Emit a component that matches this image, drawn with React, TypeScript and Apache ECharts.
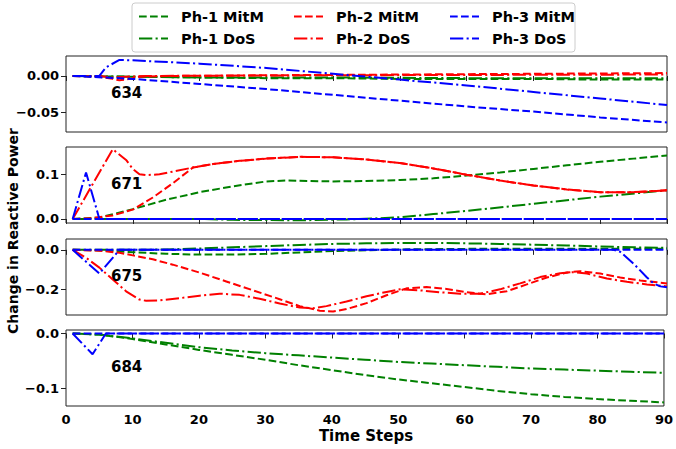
import React, { useEffect, useRef } from "react";
import * as echarts from "echarts";

// ---------- data ([time step, change in reactive power]) ----------
const panelNames = ["634", "671", "675", "684"];
const seriesNames = ["Ph-1 MitM", "Ph-1 DoS", "Ph-2 MitM", "Ph-2 DoS", "Ph-3 MitM", "Ph-3 DoS"];

// Bus 634
const b634_ph1_mitm = [[1, 0], [10, -0.001], [20, -0.002], [30, -0.003], [40, -0.003], [50, -0.004], [60, -0.004], [70, -0.004], [80, -0.005], [90, -0.005]];
const b634_ph1_dos = [[1, 0], [10, -0.001], [20, -0.002], [40, -0.002], [60, -0.003], [90, -0.003]];
const b634_ph2_mitm = [[1, 0], [5, -0.001], [7, -0.004], [8, -0.006], [9, -0.005], [11, -0.001], [15, 0], [30, 0.001], [50, 0.002], [70, 0.003], [90, 0.004]];
const b634_ph2_dos = [[1, 0], [5, 0], [7, -0.002], [9, -0.001], [12, 0], [40, 0.001], [90, 0.002]];
const b634_ph3_mitm = [[1, 0], [10, -0.004], [20, -0.011], [30, -0.018], [40, -0.026], [50, -0.034], [60, -0.042], [70, -0.049], [80, -0.057], [90, -0.064]];
const b634_ph3_dos = [[1, 0], [5, 0], [6, 0.012], [8, 0.022], [10, 0.0215], [20, 0.017], [30, 0.011], [40, 0.003], [45, -0.001], [50, -0.005], [60, -0.013], [70, -0.022], [80, -0.031], [90, -0.04]];

// Bus 671
const b671_ph1_mitm = [[1, 0], [5, 0.003], [10, 0.022], [15, 0.043], [20, 0.06], [25, 0.073], [30, 0.084], [33, 0.086], [40, 0.084], [45, 0.085], [50, 0.087], [55, 0.091], [60, 0.097], [65, 0.104], [70, 0.112], [75, 0.12], [80, 0.128], [85, 0.135], [90, 0.142]];
const b671_ph1_dos = [[1, 0], [20, 0], [25, -0.002], [35, -0.003], [42, -0.001], [46, 0.001], [50, 0.004], [55, 0.011], [60, 0.018], [70, 0.034], [80, 0.05], [90, 0.064]];
const b671_ph2_mitm = [[1, 0], [4, 0.002], [7, 0.008], [10, 0.021], [13, 0.048], [16, 0.08], [19, 0.115], [22, 0.123], [26, 0.13], [30, 0.135], [35, 0.139], [40, 0.138], [45, 0.133], [50, 0.125], [55, 0.113], [60, 0.099], [65, 0.086], [70, 0.075], [75, 0.066], [80, 0.06], [85, 0.06], [90, 0.064]];
const b671_ph2_dos = [[1, 0], [7, 0.156], [9, 0.132], [10, 0.112], [11, 0.1], [12, 0.098], [14, 0.1], [16, 0.106], [19, 0.115], [22, 0.123], [26, 0.13], [30, 0.135], [35, 0.139], [40, 0.138], [45, 0.133], [50, 0.125], [55, 0.113], [60, 0.099], [65, 0.086], [70, 0.075], [75, 0.066], [80, 0.06], [85, 0.06], [90, 0.064]];
const b671_ph3_mitm = [[1, 0], [90, 0]];
const b671_ph3_dos = [[1, 0], [3, 0.104], [5, 0], [90, 0]];

// Bus 675
const b675_ph1_mitm = [[1, 0], [5, -0.003], [10, -0.012], [15, -0.02], [20, -0.024], [25, -0.024], [30, -0.02], [35, -0.013], [40, -0.006], [45, -0.002], [50, 0.002], [60, 0.005], [70, 0.006], [80, 0.006], [90, 0.005]];
const b675_ph1_dos = [[1, 0], [10, 0], [15, 0.002], [20, 0.007], [25, 0.013], [30, 0.019], [35, 0.025], [40, 0.03], [45, 0.033], [50, 0.035], [55, 0.035], [60, 0.033], [65, 0.03], [70, 0.026], [75, 0.022], [80, 0.017], [85, 0.013], [90, 0.01]];
const b675_ph2_mitm = [[1, 0], [5, -0.004], [8, -0.015], [10, -0.028], [13, -0.048], [16, -0.075], [20, -0.115], [24, -0.16], [28, -0.205], [32, -0.25], [35, -0.285], [38, -0.308], [40, -0.312], [42, -0.3], [45, -0.27], [48, -0.23], [51, -0.195], [54, -0.188], [57, -0.198], [60, -0.215], [63, -0.225], [66, -0.21], [69, -0.175], [72, -0.14], [75, -0.115], [77, -0.108], [80, -0.12], [83, -0.14], [86, -0.155], [90, -0.17]];
const b675_ph2_dos = [[1, 0], [3, -0.04], [5, -0.09], [7, -0.15], [9, -0.21], [11, -0.252], [12, -0.258], [14, -0.256], [17, -0.245], [20, -0.232], [23, -0.222], [26, -0.228], [29, -0.248], [32, -0.272], [35, -0.292], [37, -0.296], [39, -0.285], [42, -0.262], [45, -0.235], [48, -0.213], [50, -0.2], [53, -0.205], [56, -0.215], [59, -0.222], [62, -0.222], [65, -0.2], [68, -0.17], [71, -0.138], [74, -0.118], [76, -0.113], [78, -0.12], [81, -0.145], [84, -0.162], [87, -0.175], [90, -0.185]];
const b675_ph3_mitm = [[1, 0], [90, 0]];
const b675_ph3_dos = [[1, 0], [5, -0.12], [8, 0], [82, 0], [83, -0.01], [85, -0.07], [87, -0.14], [88, -0.17], [89, -0.185], [90, -0.19]];

// Bus 684 (no phase-2 trace visible)
const b684_ph1_mitm = [[1, 0], [5, -0.002], [10, -0.01], [15, -0.02], [20, -0.03], [25, -0.039], [30, -0.048], [35, -0.058], [40, -0.067], [45, -0.076], [50, -0.084], [55, -0.091], [60, -0.098], [65, -0.105], [70, -0.111], [75, -0.116], [80, -0.12], [85, -0.123], [90, -0.126]];
const b684_ph1_dos = [[1, 0], [5, -0.002], [10, -0.009], [15, -0.017], [20, -0.025], [25, -0.031], [30, -0.036], [35, -0.04], [40, -0.044], [45, -0.048], [50, -0.052], [55, -0.055], [60, -0.058], [65, -0.061], [70, -0.064], [75, -0.066], [80, -0.068], [85, -0.07], [90, -0.072]];
const b684_ph2_mitm: number[][] = [];
const b684_ph2_dos: number[][] = [];
const b684_ph3_mitm = [[1, 0], [90, 0]];
const b684_ph3_dos = [[1, 0], [4, -0.038], [6, 0], [90, 0]];

const panelData = [
  [b634_ph1_mitm, b634_ph1_dos, b634_ph2_mitm, b634_ph2_dos, b634_ph3_mitm, b634_ph3_dos],
  [b671_ph1_mitm, b671_ph1_dos, b671_ph2_mitm, b671_ph2_dos, b671_ph3_mitm, b671_ph3_dos],
  [b675_ph1_mitm, b675_ph1_dos, b675_ph2_mitm, b675_ph2_dos, b675_ph3_mitm, b675_ph3_dos],
  [b684_ph1_mitm, b684_ph1_dos, b684_ph2_mitm, b684_ph2_dos, b684_ph3_mitm, b684_ph3_dos],
];

// axis ranges and ticks
const yMins = [-0.0771, -0.009, -0.33, -0.1326];
const yMaxs = [0.0275, 0.161, 0.055, 0.0064];
const yTicks = [[-0.05, 0], [0, 0.1], [-0.2, 0], [-0.1, 0]];
const yDecimals = [2, 1, 1, 1];

// ---------- styles ----------
const colors = ["#008000", "#008000", "#ff0000", "#ff0000", "#0000ff", "#0000ff"];
const DASHED = [7.7, 3.3];
const DASHDOT = [13.3, 3.3, 2.1, 3.3];
const dashes = [DASHED, DASHDOT, DASHED, DASHDOT, DASHED, DASHDOT];
const FONT = "DejaVu Sans";

const gridTops = [56, 147, 239, 330];
const gridH = 76;
const gridLeft = 66;
const gridW = 601;

function fmt(v: number, d: number) {
  const s = Math.abs(v).toFixed(d);
  return v < 0 ? "\u2212" + s : s;
}

export default function App() {
  const ref = useRef<HTMLDivElement>(null);
  useEffect(() => {
    if (!ref.current) return;
    const chart = echarts.init(ref.current, undefined, { renderer: "svg" });

    const grid = gridTops.map((t) => ({
      left: gridLeft,
      top: t,
      width: gridW,
      height: gridH,
      show: true,
      borderColor: "#222",
      borderWidth: 1,
      backgroundColor: "transparent",
    }));

    const xAxis = gridTops.map((_, i) => ({
      type: "value",
      gridIndex: i,
      min: 0,
      max: 90,
      interval: 10,
      axisLine: { show: false },
      axisTick: { show: true, length: 5, lineStyle: { color: "#222", width: 1 } },
      splitLine: { show: false },
      axisLabel: {
        show: i === 3,
        margin: 7,
        color: "#000",
        fontFamily: FONT,
        fontWeight: "bold",
        fontSize: 13,
        formatter: (v: number) => String(v),
      },
    }));

    const yAxis = gridTops.map((_, i) => ({
      type: "value",
      gridIndex: i,
      min: yMins[i],
      max: yMaxs[i],
      axisLine: { show: false },
      splitLine: { show: false },
      axisTick: { show: true, length: 5, customValues: yTicks[i], lineStyle: { color: "#222", width: 1 } },
      axisLabel: {
        show: true,
        customValues: yTicks[i],
        margin: 7,
        color: "#000",
        fontFamily: FONT,
        fontWeight: "bold",
        fontSize: 13,
        formatter: (v: number) => fmt(v, yDecimals[i]),
      },
    }));

    const series: any[] = [];
    panelData.forEach((arr, p) => {
      arr.forEach((data, s) => {
        series.push({
          type: "line",
          name: seriesNames[s],
          xAxisIndex: p,
          yAxisIndex: p,
          data,
          showSymbol: false,
          symbol: "none",
          clip: true,
          z: 2 + s,
          lineStyle: { color: colors[s], width: 2, type: dashes[s] },
          itemStyle: { color: colors[s] },
        });
      });
    });

    const legendCols = [138, 293, 449];
    const legend = legendCols.map((left, c) => ({
      orient: "vertical",
      left,
      top: 9,
      padding: 0,
      itemWidth: 29,
      itemHeight: 14,
      itemGap: 7,
      selectedMode: false,
      itemStyle: { opacity: 0, borderWidth: 0 },
      data: [seriesNames[c * 2], seriesNames[c * 2 + 1]],
      textStyle: {
        color: "#000",
        fontFamily: FONT,
        fontWeight: "bold",
        fontSize: 14.5,
        lineHeight: 14,
        padding: [0, 0, 0, 8],
      },
    }));

    const graphic: any[] = [
      {
        type: "rect",
        z: 0,
        shape: { x: 132, y: 3, width: 443, height: 49, r: 3 },
        style: { fill: "rgba(255,255,255,0.8)", stroke: "#cccccc", lineWidth: 1 },
      },
      {
        type: "text",
        x: 366,
        y: 436,
        style: {
          text: "Time Steps",
          fill: "#000",
          font: `bold 15px "${FONT}"`,
          textAlign: "center",
          textVerticalAlign: "middle",
        },
      },
      {
        type: "text",
        x: 13,
        y: 231,
        rotation: Math.PI / 2,
        style: {
          text: "Change in Reactive Power",
          fill: "#000",
          font: `bold 14px "${FONT}"`,
          textAlign: "center",
          textVerticalAlign: "middle",
        },
      },
      ...panelNames.map((n, i) => ({
        type: "text",
        x: 111,
        y: gridTops[i] + 37,
        z: 100,
        style: {
          text: n,
          fill: "#000",
          font: `bold 15px "${FONT}"`,
          textAlign: "left",
          textVerticalAlign: "middle",
        },
      })),
    ];

    chart.setOption({
      animation: false,
      backgroundColor: "#fff",
      grid,
      xAxis,
      yAxis,
      series,
      legend,
      graphic,
    });
    return () => chart.dispose();
  }, []);

  return (
    <div
      ref={ref}
      style={{ position: "fixed", left: 0, top: 0, width: 676, height: 449 }}
    />
  );
}
